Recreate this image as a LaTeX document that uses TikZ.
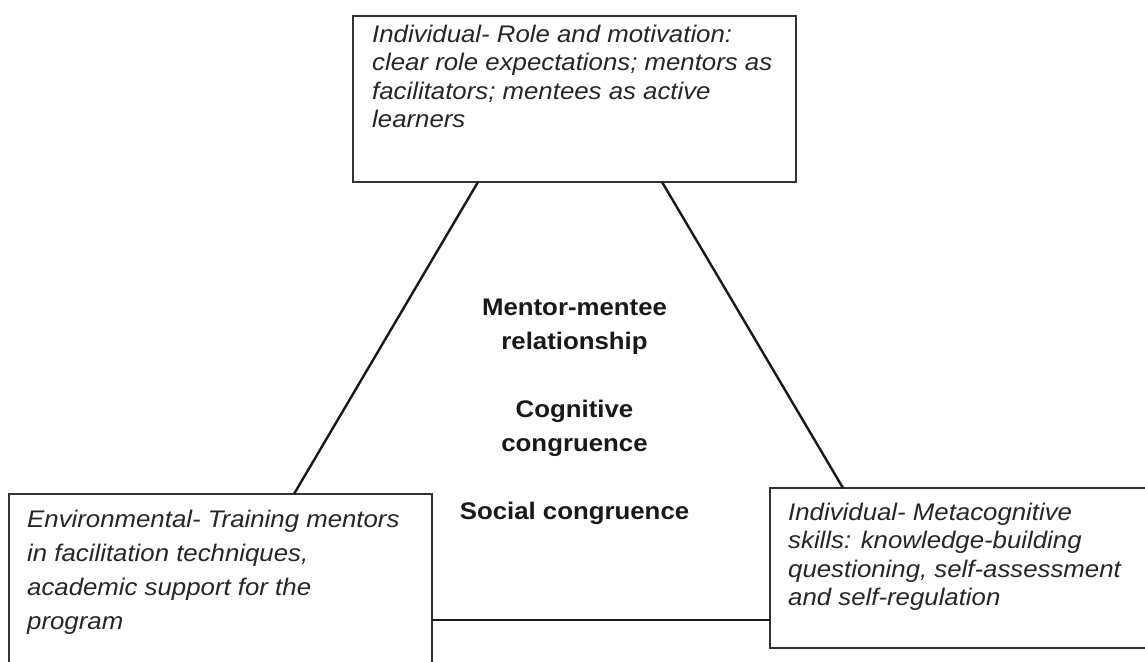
\documentclass[tikz,border=0pt]{standalone}
\usepackage{fontspec}
\setmainfont[FakeStretch=1.075]{Liberation Sans}
\newcommand{\firstlinestrut}{\rule{0pt}{20pt}}
\begin{document}
\begin{tikzpicture}[x=1pt,y=-1pt,
  box/.style={draw=black!80, line width=1.3pt, fill=none, inner sep=0pt, outer sep=0pt, anchor=north west},
  boxtext/.style={inner sep=0pt, anchor=north west, align=left, text=black!85},
  centertext/.style={inner sep=0pt, anchor=north, align=center, text=black!90},
  link/.style={line width=2.4pt, black!90}
]
\useasboundingbox (0,0) rectangle (1145,661);
\fill[white] (0,0) rectangle (1145,661);

% three factor boxes
\node[box, minimum width=443pt, minimum height=166pt] (topbox) at (353,16) {};
\node[box, minimum width=423pt, minimum height=220pt] (leftbox) at (9,494) {};
\node[box, minimum width=400pt, minimum height=160pt] (rightbox) at (770,488) {};

% box texts
\node[boxtext, font=\itshape\fontsize{24}{28.4}\selectfont] (toptext) at (372,22)
  {\firstlinestrut Individual- Role and motivation:\\
   clear role expectations; mentors as\\
   facilitators; mentees as active\\
   learners};
\node[boxtext, font=\itshape\fontsize{24}{34}\selectfont] (lefttext) at (27,507)
  {\firstlinestrut Environmental- Training mentors\\
   in facilitation techniques,\\
   academic support for the\\
   program};
\node[boxtext, font=\itshape\fontsize{24}{28.4}\selectfont] (righttext) at (788,500)
  {\firstlinestrut Individual- Metacognitive\\
   skills: knowledge-building\\
   questioning, self-assessment\\
   and self-regulation};

% centre of the triangle
\node[centertext, font=\bfseries\fontsize{24}{34}\selectfont] (centre) at (574.5,295)
  {\firstlinestrut Mentor-mentee\\
   relationship\\[34pt]
   Cognitive\\
   congruence\\[34pt]
   Social congruence};

% triangle sides joining the boxes
\draw[link] ([xshift=125pt]topbox.south west) -- ([xshift=285pt]leftbox.north west);
\draw[link] ([xshift=309pt]topbox.south west) -- ([xshift=73pt]rightbox.north west);
\draw[link] ([yshift=-126pt]leftbox.north east) -- ([yshift=-132pt]rightbox.north west);
\end{tikzpicture}
\end{document}
